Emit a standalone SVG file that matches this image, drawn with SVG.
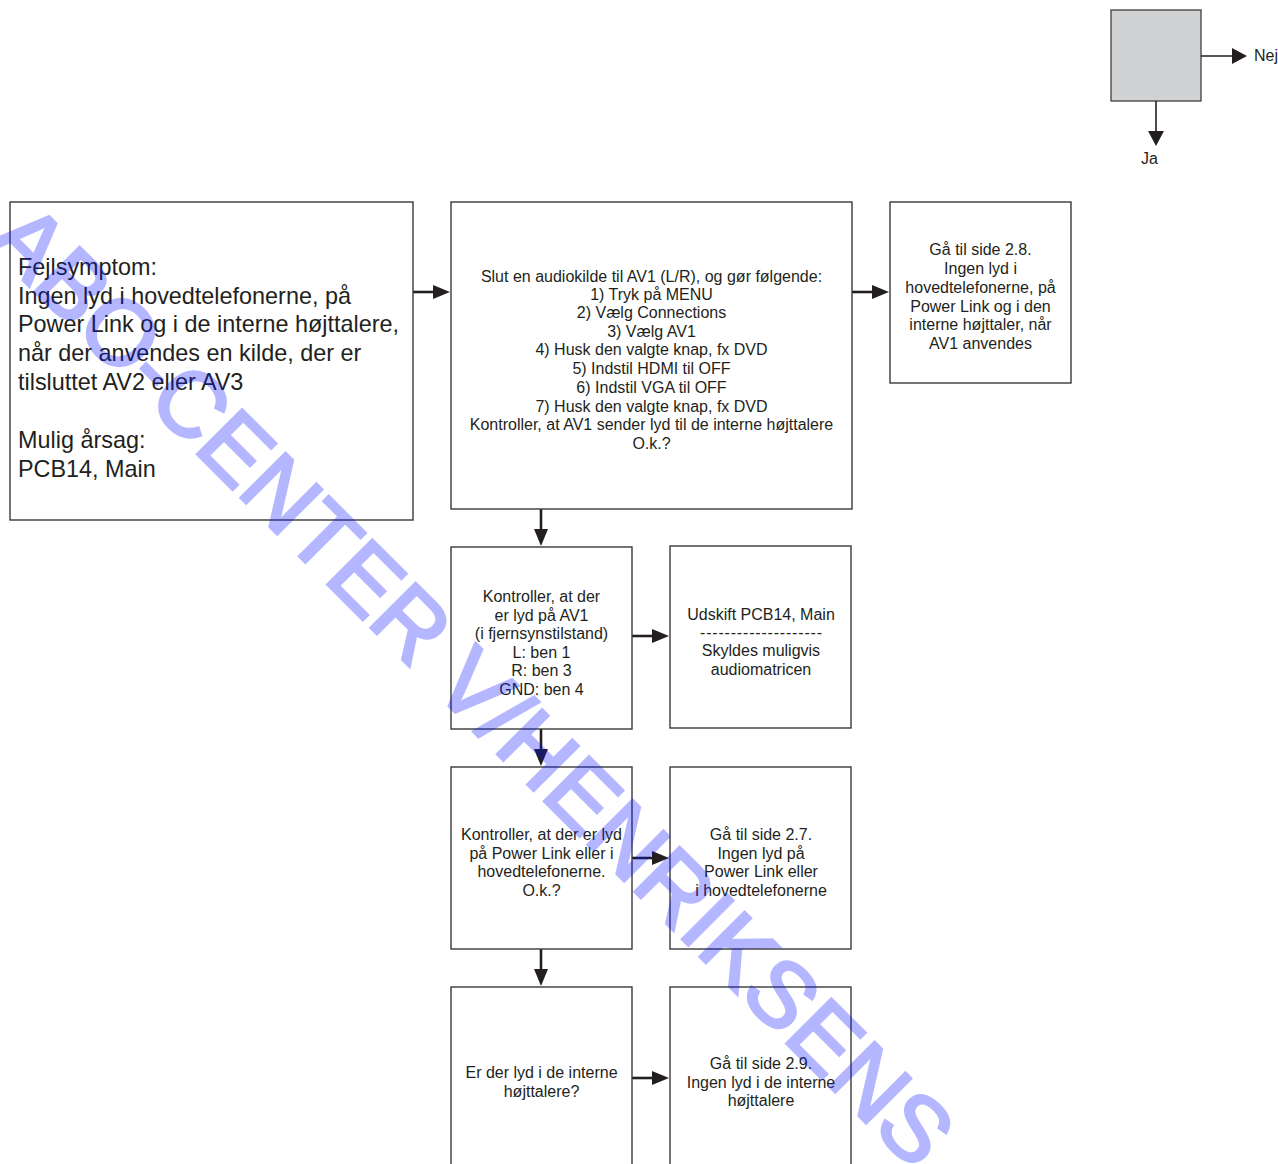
<svg xmlns="http://www.w3.org/2000/svg" width="1278" height="1164" viewBox="0 0 1278 1164">
<defs>
<style>
.box{fill:#ffffff;stroke:#3a3a3a;stroke-width:1.4}
.t{font-family:"Liberation Sans",Arial,sans-serif;font-size:16px;fill:#231f20;text-anchor:middle}
.tl{font-family:"Liberation Sans",Arial,sans-serif;font-size:23.4px;fill:#231f20}
.c{fill:none;stroke:#231f20;stroke-width:2.6}
.cl{fill:none;stroke:#231f20;stroke-width:1.6}
.wm{font-family:"Liberation Sans",Arial,sans-serif;font-size:92px;fill:#0a14ff;stroke:#0a14ff;stroke-width:3;stroke-linejoin:miter}
</style>
<marker id="ah" markerUnits="userSpaceOnUse" markerWidth="18" markerHeight="14" refX="7" refY="7" orient="auto">
<path d="M0,0 L17,7 L0,14 z" fill="#231f20"/>
</marker>
<marker id="ahl" markerUnits="userSpaceOnUse" markerWidth="16" markerHeight="18" refX="6" refY="8" orient="auto">
<path d="M0,0 L15,8 L0,16 z" fill="#231f20"/>
</marker>
</defs>
<rect width="1278" height="1164" fill="#ffffff"/>

<g id="legend">
<rect x="1111" y="10" width="90" height="91" fill="#d1d2d4" stroke="#4a4a4a" stroke-width="1.4"/>
<path class="cl" d="M1201,56 H1238" marker-end="url(#ahl)"/>
<path class="cl" d="M1156,101 V137" marker-end="url(#ahl)"/>
<text class="t" x="1254" y="61" style="text-anchor:start">Nej</text>
<text class="t" x="1141" y="164" style="text-anchor:start">Ja</text>
</g>

<g id="connectors">
<path class="c" d="M413,292 H440" marker-end="url(#ah)"/>
<path class="c" d="M852,292 H879" marker-end="url(#ah)"/>
<path class="c" d="M541,509 V536" marker-end="url(#ah)"/>
<path class="c" d="M632,636 H659" marker-end="url(#ah)"/>
<path class="c" d="M541,729 V756" marker-end="url(#ah)"/>
<path class="c" d="M632,858 H659" marker-end="url(#ah)"/>
<path class="c" d="M541,949 V976" marker-end="url(#ah)"/>
<path class="c" d="M632,1078 H659" marker-end="url(#ah)"/>
</g>

<g id="n1">
<rect class="box" x="10" y="202" width="403" height="318"/>
<text class="tl" x="18" y="275">Fejlsymptom:</text>
<text class="tl" x="18" y="303.5">Ingen lyd i hovedtelefonerne, på</text>
<text class="tl" x="18" y="332">Power Link og i de interne højttalere,</text>
<text class="tl" x="18" y="361">når der anvendes en kilde, der er</text>
<text class="tl" x="18" y="390">tilsluttet AV2 eller AV3</text>
<text class="tl" x="18" y="448">Mulig årsag:</text>
<text class="tl" x="18" y="477">PCB14, Main</text>
</g>

<g id="n2">
<rect class="box" x="451" y="202" width="401" height="307"/>
<text class="t" x="651.5" y="281.5">Slut en audiokilde til AV1 (L/R), og gør følgende:</text>
<text class="t" x="651.5" y="299.5">1) Tryk på MENU</text>
<text class="t" x="651.5" y="318.3">2) Vælg Connections</text>
<text class="t" x="651.5" y="336.8">3) Vælg AV1</text>
<text class="t" x="651.5" y="355.3">4) Husk den valgte knap, fx DVD</text>
<text class="t" x="651.5" y="374">5) Indstil HDMI til OFF</text>
<text class="t" x="651.5" y="392.7">6) Indstil VGA til OFF</text>
<text class="t" x="651.5" y="411.5">7) Husk den valgte knap, fx DVD</text>
<text class="t" x="651.5" y="430">Kontroller, at AV1 sender lyd til de interne højttalere</text>
<text class="t" x="651.5" y="448.5">O.k.?</text>
</g>

<g id="n3">
<rect class="box" x="890" y="202" width="181" height="181"/>
<text class="t" x="980.5" y="255">Gå til side 2.8.</text>
<text class="t" x="980.5" y="273.5">Ingen lyd i</text>
<text class="t" x="980.5" y="292.5">hovedtelefonerne, på</text>
<text class="t" x="980.5" y="311.5">Power Link og i den</text>
<text class="t" x="980.5" y="330">interne højttaler, når</text>
<text class="t" x="980.5" y="348.5">AV1 anvendes</text>
</g>

<g id="n4">
<rect class="box" x="451" y="547" width="181" height="182"/>
<text class="t" x="541.5" y="601.5">Kontroller, at der</text>
<text class="t" x="541.5" y="620.5">er lyd på AV1</text>
<text class="t" x="541.5" y="639">(i fjernsynstilstand)</text>
<text class="t" x="541.5" y="657.5">L: ben 1</text>
<text class="t" x="541.5" y="676">R: ben 3</text>
<text class="t" x="541.5" y="694.5">GND: ben 4</text>
</g>

<g id="n5">
<rect class="box" x="670" y="546" width="181" height="182"/>
<text class="t" x="761" y="619.5">Udskift PCB14, Main</text>
<text class="t" x="761" y="637.5" textLength="122" lengthAdjust="spacing">--------------------</text>
<text class="t" x="761" y="656">Skyldes muligvis</text>
<text class="t" x="761" y="674.5">audiomatricen</text>
</g>

<g id="n6">
<rect class="box" x="451" y="767" width="181" height="182"/>
<text class="t" x="541.5" y="840">Kontroller, at der er lyd</text>
<text class="t" x="541.5" y="858.5">på Power Link eller i</text>
<text class="t" x="541.5" y="877">hovedtelefonerne.</text>
<text class="t" x="541.5" y="895.5">O.k.?</text>
</g>

<g id="n7">
<rect class="box" x="670" y="767" width="181" height="182"/>
<text class="t" x="761" y="840">Gå til side 2.7.</text>
<text class="t" x="761" y="858.5">Ingen lyd på</text>
<text class="t" x="761" y="877">Power Link eller</text>
<text class="t" x="761" y="895.5">i hovedtelefonerne</text>
</g>

<g id="n8">
<rect class="box" x="451" y="987" width="181" height="190"/>
<text class="t" x="541.5" y="1078">Er der lyd i de interne</text>
<text class="t" x="541.5" y="1097">højttalere?</text>
</g>

<g id="n9">
<rect class="box" x="670" y="987" width="181" height="190"/>
<text class="t" x="761" y="1069">Gå til side 2.9.</text>
<text class="t" x="761" y="1088">Ingen lyd i de interne</text>
<text class="t" x="761" y="1106">højttalere</text>
</g>

<g id="watermark" opacity="0.3">
<text class="wm" x="0" y="0" transform="translate(-14,243) rotate(45)">ABO-CENTER V/HENRIKSENS</text>
</g>
</svg>
